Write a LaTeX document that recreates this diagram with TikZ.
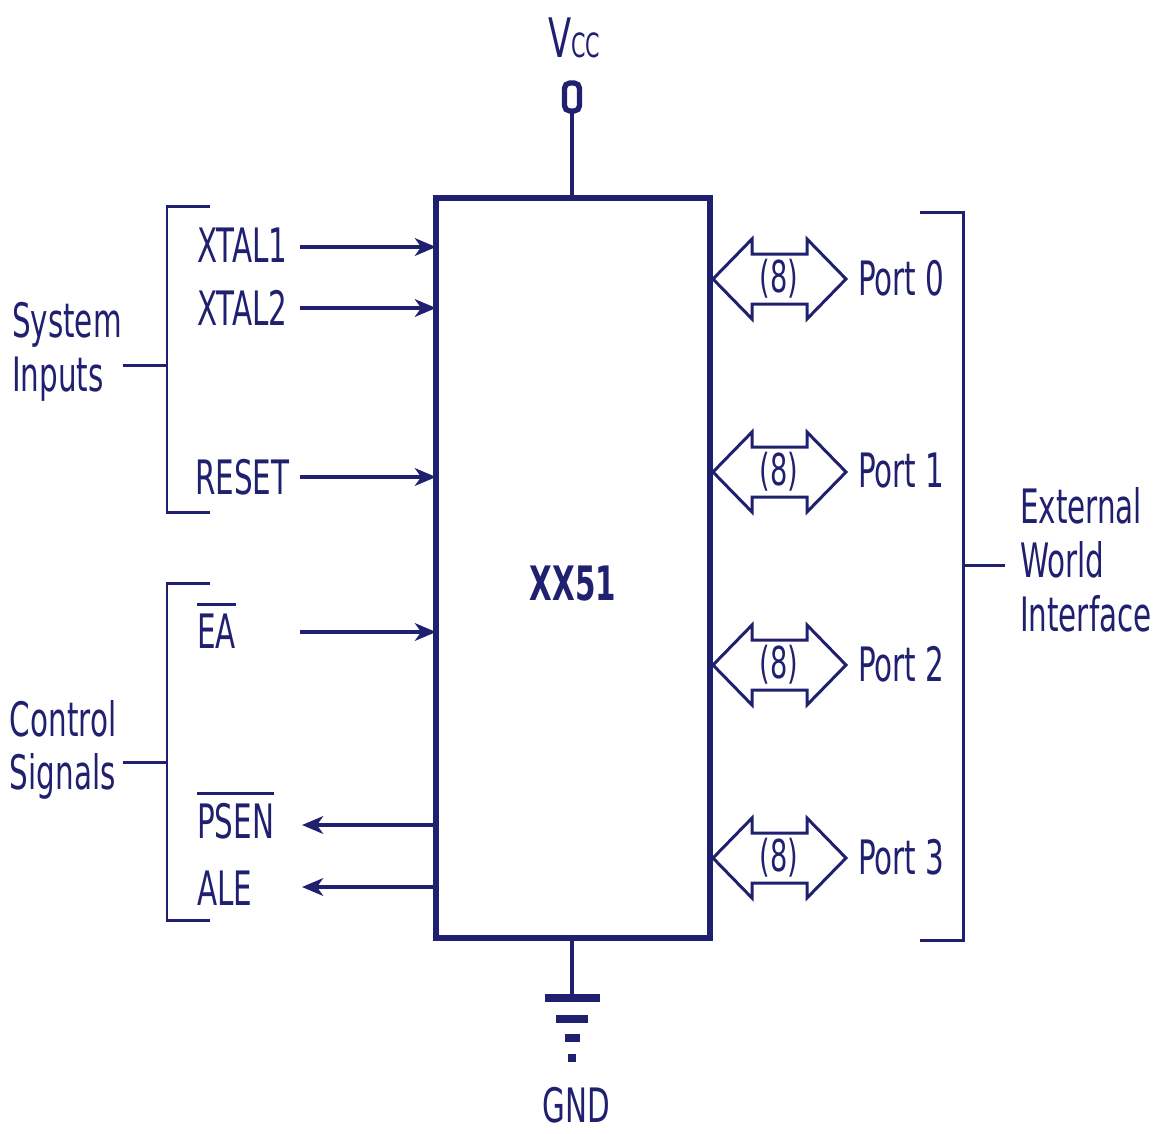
\documentclass[tikz,border=0pt]{standalone}
\usepackage{fontspec}
\setmainfont{DejaVu Sans}[FakeStretch=0.62]
\usetikzlibrary{arrows.meta}
\definecolor{navy}{RGB}{32,32,112}
\newcommand{\barred}[1]{\vbox{\hrule height 1.4pt\kern 4.5pt\hbox{#1}}}
\begin{document}
\begin{tikzpicture}[x=0.02cm,y=-0.02cm,
  every node/.style={text=navy, inner sep=0pt, outer sep=0pt, font=\fontsize{27}{30.6}\selectfont},
  lbl/.style={anchor=base west},
  grp/.style={anchor=west, align=left},
  sig/.style={draw=navy, line width=2.1pt, -{Stealth[length=12pt,width=10pt,inset=3.5pt]}},
  brk/.style={draw=navy, line width=1.7pt},
  port/.style={draw=navy, line width=1.7pt, fill=white, line join=miter},
  gbar/.style={draw=navy, line width=4.2pt}]
\useasboundingbox (0,0) rectangle (1159,1133);

% chip
\node[draw=navy, line width=3pt, minimum width=5.48cm, minimum height=14.8cm] (chip) at (573,568) {};
\node[font=\bfseries\fontsize{27}{30}\selectfont, anchor=base] (chipname) at (573,600) {XX51};

% Vcc
\node[anchor=base] (vcc) at (574,57) {{\fontsize{31}{32}\selectfont V}{\fontsize{19}{20}\selectfont CC}};
\node[draw=navy, line width=3pt, rounded corners=3pt, minimum width=0.3cm, minimum height=0.56cm] (pin) at (572,97) {};
\draw[draw=navy, line width=2.4pt] (pin.south) -- (chip.north -| pin.south);

% GND
\coordinate (g0) at (572,998);
\draw[draw=navy, line width=2.4pt] (chip.south -| g0) -- (g0);
\draw[gbar] (545,998) -- (600,998);
\draw[gbar] (556,1019) -- (588,1019);
\draw[gbar] (565,1038) -- (580,1038);
\draw[gbar] (568,1058) -- (576,1058);
\node[anchor=base] (gnd) at (576,1122) {GND};

% left labels
\node[lbl] (xtal1) at (197,262) {XTAL1};
\node[lbl] (xtal2) at (197,325) {XTAL2};
\node[lbl] (reset) at (195,494) {RESET};
\node[lbl] (ea) at (197,648) {\barred{EA}};
\node[lbl] (psen) at (197,838) {\barred{PSEN}};
\node[lbl] (ale) at (197,905) {ALE};

\coordinate (s1) at (300,247);
\coordinate (s2) at (300,308);
\coordinate (s3) at (300,477);
\coordinate (s4) at (300,632);
\coordinate (s5) at (302,825);
\coordinate (s6) at (302,887);
\draw[sig] (s1) -- (chip.west |- s1);
\draw[sig] (s2) -- (chip.west |- s2);
\draw[sig] (s3) -- (chip.west |- s3);
\draw[sig] (s4) -- (chip.west |- s4);
\draw[sig] (chip.west |- s5) -- (s5);
\draw[sig] (chip.west |- s6) -- (s6);

% left brackets
\draw[brk] (210,206) -- (167,206) -- (167,512) -- (210,512);
\coordinate (t1) at (123,365);
\draw[brk] (t1) -- (167,365);
\node[grp] (sysin) at (12,352) {System\\Inputs};

\draw[brk] (210,583) -- (167,583) -- (167,920) -- (210,920);
\coordinate (t2) at (123,762);
\draw[brk] (t2) -- (167,762);
\node[grp] (ctrl) at (10,750) {Control\\Signals};

% ports
\foreach \p/\y in {0/279,1/472,2/665,3/858} {
  \draw[port] (713,\y) -- (752,\y-40) -- (752,\y-25) -- (807,\y-25) -- (807,\y-40)
     -- (846,\y) -- (807,\y+40) -- (807,\y+25) -- (752,\y+25) -- (752,\y+40) -- cycle;
  \node[font=\fontsize{25}{28}\selectfont] (num\p) at (779,\y) {(8)};
  \node[anchor=west] (port\p) at (858,\y-1) {Port \p};
}

% right bracket
\draw[brk] (920,212) -- (963,212) -- (963,940) -- (920,940);
\coordinate (t3) at (1005,565);
\draw[brk] (963,565) -- (t3);
\node[grp] (ext) at (1020,560) {External\\World\\Interface};
\end{tikzpicture}
\end{document}
